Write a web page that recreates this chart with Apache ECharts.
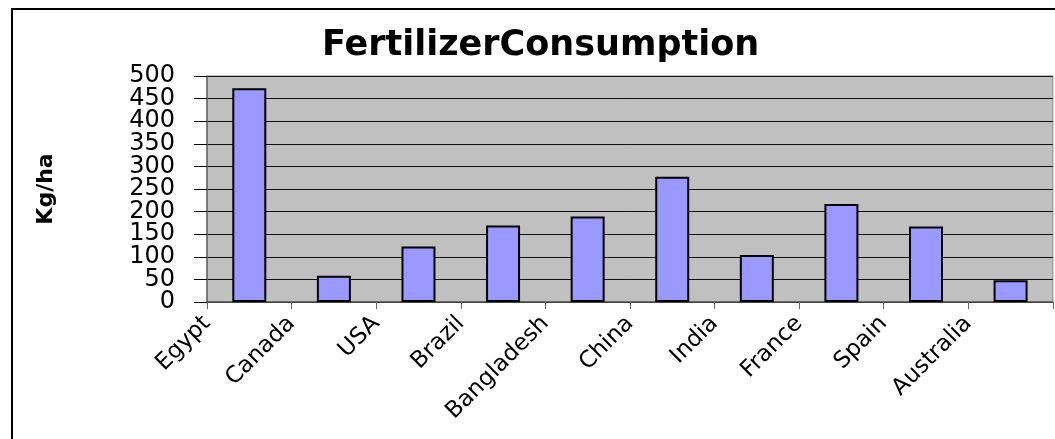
<!DOCTYPE html>
<html lang="en">
<head>
    <meta charset="UTF-8">
    <title>FertilizerConsumption</title>
    <script src="https://cdn.jsdelivr.net/npm/echarts@6/dist/echarts.min.js"></script>
    <style>
        html, body { margin: 0; padding: 0; background: #fff; }
    </style>
</head>
<body>
    <div id="chart" style="width: 1055px; height: 439px;"></div>
    <script>
        // data
        const countries = ['Egypt', 'Canada', 'USA', 'Brazil', 'Bangladesh', 'China', 'India', 'France', 'Spain', 'Australia']
        const consumption = [473, 58, 123, 169, 189, 277, 104, 217, 167, 48]
        const yTicks = { min: 0, max: 500, interval: 50 }

        const chart = echarts.init(document.getElementById('chart'))

        const labelFont = {
            margin: 32,
            fontFamily: 'DejaVu Sans',
            fontSize: 24,
            color: '#000'
        }

        // the tick labels are packed tight, so odd and even ones go on two
        // stacked axes, otherwise echarts drops the ones that overlap
        const yAxisBase = (show) => ({
            type: 'value',
            position: 'left',
            min: yTicks.min,
            max: yTicks.max,
            interval: yTicks.interval,
            axisLabel: Object.assign({
                showMinLabel: true,
                showMaxLabel: true,
                formatter: (v) => show(v) ? String(v) : ''
            }, labelFont)
        })

        const option = {
            backgroundColor: '#fff',
            animation: false,
            title: {
                text: 'FertilizerConsumption',
                left: 322,
                top: 28,
                padding: 0,
                textStyle: {
                    fontFamily: 'DejaVu Sans',
                    fontWeight: 'bold',
                    fontSize: 35,
                    color: '#000'
                }
            },
            graphic: [{
                type: 'rect',
                shape: { x: 12, y: 9, width: 1100, height: 500 },
                style: { fill: 'none', stroke: '#000', lineWidth: 2 },
                silent: true
            }],
            grid: {
                left: 207,
                right: -13,
                top: 76,
                bottom: 137,
                show: true,
                backgroundColor: '#C0C0C0',
                borderColor: '#888',
                borderWidth: 1
            },
            xAxis: [{
                type: 'category',
                data: countries,
                boundaryGap: true,
                axisLine: { lineStyle: { color: '#555', width: 1.5 } },
                axisTick: { show: true, length: 7, lineStyle: { color: '#666' } },
                axisLabel: { show: false }
            }, {
                // labels sit on the category boundaries, as in the picture
                type: 'category',
                position: 'bottom',
                data: countries.concat(['']),
                boundaryGap: false,
                axisLine: { show: false },
                axisTick: { show: false },
                axisLabel: {
                    interval: 0,
                    rotate: 45,
                    margin: 18,
                    fontFamily: 'DejaVu Sans',
                    fontSize: 23,
                    color: '#000'
                }
            }],
            yAxis: [
                Object.assign(yAxisBase((v) => v % 100 === 0), {
                    name: 'Kg/ha',
                    nameLocation: 'middle',
                    nameRotate: 90,
                    nameGap: 150,
                    nameTextStyle: {
                        fontFamily: 'DejaVu Sans',
                        fontWeight: 'bold',
                        fontSize: 22,
                        color: '#000'
                    },
                    axisLine: { show: true, lineStyle: { color: '#666', width: 1.5 } },
                    axisTick: { show: true, length: 13, lineStyle: { color: '#000' } },
                    splitLine: { show: true, lineStyle: { color: '#111', width: 1 } }
                }),
                Object.assign(yAxisBase((v) => v % 100 === 50), {
                    offset: 0,
                    axisLine: { show: false },
                    axisTick: { show: false },
                    splitLine: { show: false }
                })
            ],
            series: [{
                name: 'Kg/ha',
                type: 'bar',
                xAxisIndex: 0,
                yAxisIndex: 0,
                data: consumption,
                barWidth: 34,
                itemStyle: {
                    color: '#9999FF',
                    borderColor: '#000',
                    borderWidth: 2
                }
            }]
        }

        chart.setOption(option)
    </script>
</body>
</html>
